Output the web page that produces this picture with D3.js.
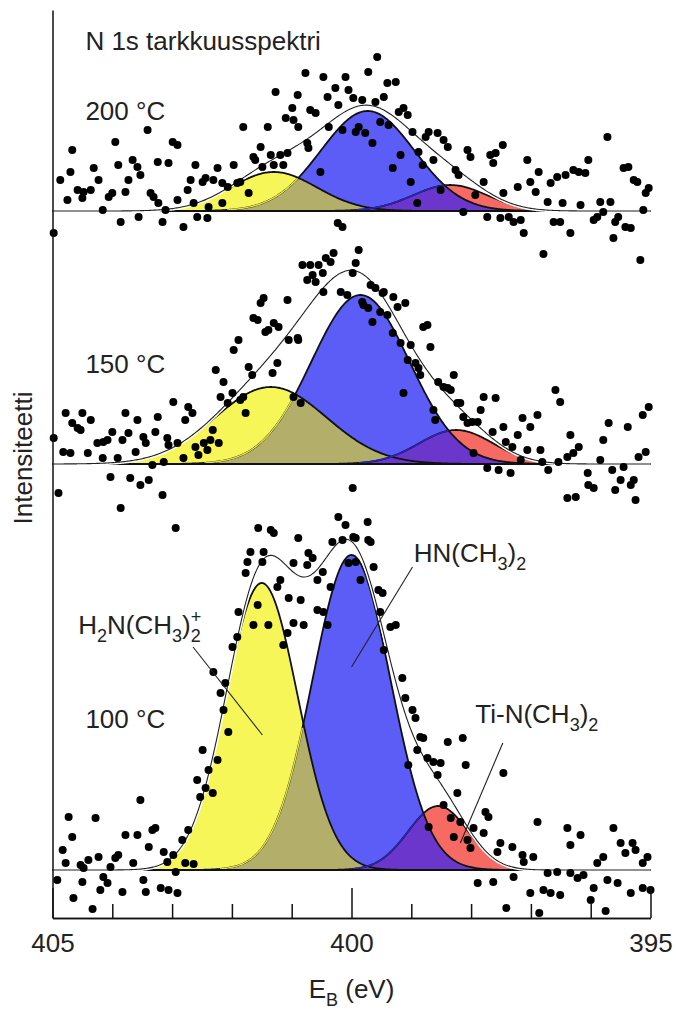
<!DOCTYPE html>
<html>
<head>
<meta charset="utf-8">
<script src="https://cdn.jsdelivr.net/npm/d3@7"></script>
<style>
  body { margin: 0; background: #fff; }
  text { font-family: "Liberation Sans", Arial, sans-serif; fill: #222; }
</style>
</head>
<body>
<script>
// ---------------- DATA ----------------
const xTicksMajor = [405, 400, 395];
const xTicksMinor = [404, 403, 402, 401, 399, 398, 397, 396];
const tempLabels = ["100 °C", "150 °C", "200 °C"];
const stackOffsets = [0, 4.06, 6.59];           // vertical offset of each spectrum (intensity units)
const componentNames = ["H2N(CH3)2+", "HN(CH3)2", "Ti-N(CH3)2"];

// Gaussian components: [yellow, blue, red]
const centers100 = [401.5, 400.0, 398.55];
const amps100    = [2.87, 3.15, 0.64];
const sigmas100  = [0.60, 0.65, 0.50];

const centers150 = [401.35, 399.85, 398.25];
const amps150    = [0.77, 1.69, 0.34];
const sigmas150  = [0.93, 0.82, 0.62];

const centers200 = [401.3, 399.73, 398.35];
const amps200    = [0.39, 1.00, 0.26];
const sigmas200  = [0.72, 0.78, 0.62];

// measured points [binding energy (eV), intensity above baseline]
const pts100 = [[403.53,0.70],[403.28,0.42],[403.33,0.40],[402.73,0.40],[403.78,0.35],[403.58,0.35],[404.73,0.53],[404.28,0.52],[404.67,0.33],[402.83,0.30],[403.39,0.23],[404.83,0.20],[403.14,0.18],[402.98,0.15],[404.23,0.13],[403.90,0.15],[403.95,0.12],[404.40,0.10],[404.78,0.07],[404.53,0.05],[404.03,0.03],[403.65,0.07],[403.08,0.08],[402.78,0.07],[402.64,0.06],[404.48,0.02],[402.94,-0.02],[404.92,-0.10],[404.50,-0.12],[404.15,-0.07],[404.08,-0.13],[403.48,-0.10],[404.20,-0.20],[403.83,-0.22],[403.44,-0.22],[403.19,-0.18],[403.06,-0.20],[402.91,-0.23],[404.65,-0.28],[404.33,-0.39],
[401.56,3.42],[401.35,3.40],[401.30,3.37],[401.69,3.18],[401.47,3.18],[401.74,3.08],[401.49,3.08],[401.77,2.97],[401.19,2.90],[401.24,2.83],[401.05,2.72],[400.89,3.32],[400.97,3.07],[400.85,2.70],[400.72,3.17],[400.65,3.12],[400.74,3.05],[400.57,2.90],[400.48,2.98],[400.32,3.28],[400.15,3.30],[400.22,3.53],[400.10,3.45],[399.97,3.33],[399.73,3.48],[399.72,3.30],[400.57,2.60],[400.47,2.58],[400.35,2.83],[400.40,2.45],[400.97,2.47],[400.80,2.45],[401.57,2.65],[401.64,2.45],[401.39,2.45],[401.89,2.58],[401.07,2.37],[401.14,2.25],[401.99,2.23],[401.91,2.33],[402.31,1.98],[402.11,1.87],[402.19,1.77],[400.05,3.07],[399.93,3.08],[399.85,2.90],[399.63,3.03],[399.93,3.32],[399.68,3.28],[399.55,2.80],[399.48,2.77],[399.52,2.58],[399.35,2.43],[399.26,2.45],[399.46,2.20],[399.15,1.92],[399.10,1.72],
[402.14,1.60],[402.06,1.38],[402.49,1.20],[402.24,1.10],[402.39,1.00],[402.58,0.90],[402.44,0.82],[402.32,0.77],[402.53,0.73],
[398.98,1.60],[398.93,1.52],[398.85,1.33],[398.80,1.32],[398.39,1.28],[398.14,1.32],[398.90,1.20],[398.73,1.12],[398.63,1.08],[398.51,1.07],[398.09,1.05],[399.05,1.05],[398.56,0.95],[397.46,0.97],[398.23,0.77],[398.46,0.65],[397.76,0.58],[397.71,0.53],[398.34,0.52],[398.18,0.48],[396.89,0.48],[396.39,0.42],[395.62,0.42],[398.71,0.43],[397.96,0.42],[398.29,0.33],[396.17,0.35],[397.79,0.37],[398.06,0.30],[398.01,0.22],[396.34,0.25],[397.51,0.27],[397.31,0.23],[397.56,0.18],[395.50,0.27],[395.30,0.27],[395.25,0.20],[395.42,0.17],[397.14,0.15],[396.96,0.13],[395.05,0.13],[395.79,0.13],[397.12,0.08],[395.89,0.07],[395.13,0.07],[396.72,-0.03],[396.56,-0.02],[396.34,-0.03],[396.12,-0.05],[396.22,-0.08],[397.29,-0.07],[397.89,-0.13],[397.63,-0.12],[395.72,-0.10],[395.55,-0.13],[395.95,-0.18],[397.01,-0.23],[396.79,-0.20],[396.67,-0.23],[396.51,-0.25],[395.13,-0.18],[395.00,-0.20],[395.33,-0.23],[397.41,-0.38],[396.86,-0.43],[396.00,-0.30],[395.75,-0.41]];

const pts150 = [[404.98,0.26],[404.90,-0.29],[404.78,0.51],[404.82,0.12],[404.70,0.11],[404.67,0.41],[404.58,0.36],[404.50,0.51],[404.53,0.34],[404.41,0.11],[404.36,0.44],[404.25,0.21],[404.16,0.06],[404.15,0.22],[404.08,0.24],[404.03,-0.13],[404.00,0.32],[403.91,0.06],[403.83,0.24],[403.78,0.51],[403.73,0.31],[403.70,-0.14],[403.61,0.12],[403.58,0.44],[403.53,-0.21],[403.48,0.27],[403.44,0.21],[403.39,-0.16],[403.33,-0.01],[403.28,0.32],[403.24,0.47],[403.16,-0.31],[403.14,0.02],[403.08,0.26],[403.06,0.19],[402.98,0.62],[402.91,0.21],[402.81,0.06],[402.78,0.44],[402.73,0.57],[402.66,0.51],[402.61,0.17],[402.56,0.09],[402.47,0.21],[402.41,0.14],[402.36,0.24],[402.32,0.34],[402.27,0.94],[402.22,0.21],[402.14,0.82],[402.19,0.67],[402.07,0.61],[401.99,0.71],[401.97,1.14],[401.89,1.24],[401.86,0.64],[401.81,0.67],[401.77,0.51],[401.72,0.97],[401.66,0.89],[401.64,1.46],[401.57,1.44],[401.52,1.61],[401.47,1.66],[401.44,1.32],[401.39,1.34],[401.32,0.91],[401.30,1.41],[401.24,1.01],[401.22,1.37],[401.07,1.64],[401.05,1.24],[400.97,0.67],[400.90,1.26],[400.89,1.24],[400.85,0.61],[400.82,1.99],[400.74,1.84],[400.65,1.89],[400.69,1.99],[400.60,1.82],[400.55,1.99],[400.48,1.91],[400.47,1.72],[400.43,2.06],[400.35,2.02],[400.30,2.11],[400.18,1.72],[400.07,1.69],[399.98,1.91],[399.93,2.01],[399.88,2.14],[399.98,-0.24],[399.82,1.62],[399.80,1.59],[399.72,1.56],[399.65,1.42],[399.68,1.79],[399.60,1.76],[399.48,1.71],[399.46,1.72],[399.30,1.67],[399.23,1.57],[399.10,1.61],[399.52,1.52],[399.40,1.49],[399.31,1.31],[399.18,1.21],[399.13,0.71],[399.01,1.19],[399.06,1.04],[398.80,1.37],[398.73,1.39],[398.68,1.17],[398.93,1.01],[398.88,0.96],[398.85,0.89],[398.63,0.54],[398.60,0.44],[398.55,0.82],[398.46,0.77],[398.39,0.76],[398.34,0.74],[398.29,0.89],[398.23,0.61],[398.18,0.61],[398.13,0.47],[398.06,0.41],[397.98,0.42],[397.89,0.42],[397.84,0.54],[397.79,0.67],[397.59,0.66],[397.64,0.32],[397.96,0.11],[397.73,-0.04],[397.54,-0.06],[397.46,0.37],[397.42,0.22],[397.34,-0.09],[397.31,0.17],[397.22,0.29],[397.17,0.04],[397.14,0.46],[397.06,0.14],[397.01,0.37],[396.89,0.49],[396.84,0.14],[396.81,0.02],[396.79,2.10],[396.71,-0.06],[396.59,0.74],[396.51,0.62],[396.54,0.02],[396.39,0.07],[396.34,0.29],[396.29,0.11],[396.20,0.17],[396.05,-0.09],[396.04,-0.21],[395.95,-0.24],[395.84,0.04],[395.79,0.24],[395.70,0.41],[395.64,-0.06],[395.59,-0.26],[395.50,-0.16],[395.45,-0.03],[395.38,0.37],[395.33,-0.21],[395.28,-0.16],[395.20,0.07],[395.17,2.04],[395.13,0.49],[395.08,0.12],[395.03,0.57],[396.39,-0.34],[396.25,-0.33],[395.25,-0.36],[403.86,-0.44],[402.94,-0.64]];

const pts200 = [[404.98,-0.22],[404.87,0.31],[404.67,0.61],[404.70,0.39],[404.75,0.11],[404.58,0.21],[404.48,0.19],[404.36,0.21],[404.50,0.13],[404.31,0.43],[404.23,0.31],[404.16,0.01],[404.00,0.18],[404.06,0.14],[403.95,0.69],[403.90,0.46],[403.86,-0.11],[403.78,0.19],[403.73,0.31],[403.66,0.51],[403.58,0.44],[403.53,0.36],[403.56,-0.06],[403.41,0.81],[403.36,0.18],[403.31,0.14],[403.24,0.49],[403.23,0.08],[403.16,-0.11],[403.11,0.01],[403.06,0.48],[402.99,0.69],[402.91,0.66],[402.91,0.11],[402.81,-0.16],[402.74,0.21],[402.69,0.31],[402.64,0.08],[402.61,0.46],[402.58,-0.06],[402.49,0.29],[402.44,0.33],[402.41,-0.07],[402.39,0.04],[402.31,0.31],[402.24,0.43],[402.16,0.08],[402.16,0.28],[402.07,0.24],[401.97,0.46],[401.91,0.28],[401.86,0.29],[401.81,0.84],[401.72,0.18],[401.64,0.54],[401.61,0.51],[401.52,0.64],[401.49,0.44],[401.40,0.84],[401.35,0.56],[401.30,0.46],[401.27,1.19],[401.19,0.56],[401.14,0.46],[401.07,0.58],[401.10,0.93],[400.99,1.03],[400.97,0.91],[400.90,1.16],[400.89,0.84],[400.74,0.68],[400.72,0.63],[400.77,1.38],[400.69,1.01],[400.60,0.98],[400.52,0.39],[400.47,1.34],[400.40,1.14],[400.38,0.84],[400.27,1.23],[400.22,1.06],[400.23,-0.12],[400.15,-0.16],[400.15,0.81],[400.10,1.34],[400.05,1.21],[399.97,1.13],[399.93,0.79],[399.88,0.84],[399.82,1.11],[399.77,0.78],[399.72,1.39],[399.65,0.68],[399.57,1.54],[399.60,1.09],[399.46,1.14],[399.40,1.28],[399.26,1.29],[399.52,0.89],[399.38,0.86],[399.21,0.99],[399.13,1.03],[399.06,0.96],[399.18,0.56],[399.31,0.43],[398.98,0.79],[399.01,0.29],[398.88,0.59],[398.81,0.46],[398.76,0.74],[398.71,0.79],[398.63,0.51],[398.56,0.78],[398.46,0.71],[398.39,0.64],[398.51,0.21],[398.90,0.08],[398.26,0.41],[398.21,0.36],[398.13,-0.01],[398.06,0.61],[398.01,0.54],[397.93,0.16],[397.79,0.29],[397.73,-0.06],[397.68,0.56],[397.63,0.48],[397.59,0.58],[397.47,0.66],[397.46,0.18],[397.51,-0.07],[397.37,-0.06],[397.29,-0.11],[397.17,-0.09],[397.12,-0.22],[397.22,0.24],[397.06,0.51],[397.01,0.29],[396.92,0.19],[396.87,0.39],[396.72,0.09],[396.67,0.28],[396.62,-0.11],[396.56,0.34],[396.51,-0.11],[396.47,0.08],[396.42,0.36],[396.34,-0.22],[396.29,0.41],[396.20,0.39],[396.17,0.06],[396.09,0.38],[396.04,0.51],[395.95,-0.09],[395.89,-0.06],[395.84,0.09],[395.79,-0.01],[395.72,0.74],[395.67,0.09],[395.59,-0.11],[395.54,-0.06],[395.62,-0.27],[395.45,0.43],[395.37,0.44],[395.42,-0.16],[395.33,-0.17],[395.28,0.31],[395.22,0.29],[395.12,0.01],[395.08,0.18],[395.03,0.23]];

// ---------------- CHART ----------------
const W = 676, H = 1011;
const FONT = 26, SUB = 18;
const svg = d3.select("body").append("svg").attr("width", W).attr("height", H);

const x = d3.scaleLinear().domain([405, 395]).range([52.5, 650.5]);
const y = d3.scaleLinear().domain([-0.48, 8.70]).range([918, 0]);

const colYellow = "#f6f658", colBlue = "#5c5cf6", colRed = "#f76a64",
      colOlive = "#b3ae6a", colPurple = "#6a36cc";

const grid = d3.range(395, 405.0001, 0.02);
const gauss = (e, c, a, s) => a * Math.exp(-0.5 * ((e - c) / s) ** 2);

const panels = [
  {c: centers100, a: amps100, s: sigmas100, pts: pts100, off: stackOffsets[0]},
  {c: centers150, a: amps150, s: sigmas150, pts: pts150, off: stackOffsets[1]},
  {c: centers200, a: amps200, s: sigmas200, pts: pts200, off: stackOffsets[2]}
];

panels.forEach((p, pi) => {
  const g = svg.append("g");
  const rows = grid.map(e => {
    const v = [0, 1, 2].map(k => gauss(e, p.c[k], p.a[k], p.s[k]));
    return {e, Y: v[0], B: v[1], R: v[2], S: v[0] + v[1] + v[2]};
  });
  const area = f => d3.area().x(d => x(d.e)).y0(y(p.off)).y1(d => y(p.off + f(d)))(rows);
  const line = (f, def) => d3.line().defined(def || (() => true))
      .x(d => x(d.e)).y(d => y(p.off + f(d)))(rows);

  g.append("path").attr("d", area(d => d.Y)).attr("fill", colYellow);
  g.append("path").attr("d", area(d => d.B)).attr("fill", colBlue);
  g.append("path").attr("d", area(d => d.R)).attr("fill", colRed);
  g.append("path").attr("d", area(d => Math.min(d.Y, d.B))).attr("fill", colOlive);
  g.append("path").attr("d", area(d => Math.min(d.B, d.R))).attr("fill", colPurple);

  // component outlines
  g.append("path").attr("d", line(d => d.Y)).attr("fill", "none").attr("stroke", "#111").attr("stroke-width", 1.8);
  g.append("path").attr("d", line(d => d.B)).attr("fill", "none").attr("stroke", "#111").attr("stroke-width", 1.8);
  g.append("path").attr("d", line(d => d.R)).attr("fill", "none").attr("stroke", "#111").attr("stroke-width", 1.8);
  g.append("path").attr("d", line(d => d.B, d => d.Y > d.B + 0.005 && d.B > 0.01))
      .attr("fill", "none").attr("stroke", "#e4e24a").attr("stroke-width", 1.4);
  g.append("path").attr("d", line(d => d.R, d => d.R < d.B - 0.005 && d.R > 0.01))
      .attr("fill", "none").attr("stroke", "#2626b0").attr("stroke-width", 1.6);

  // baseline
  g.append("line").attr("x1", x(405)).attr("x2", x(395))
    .attr("y1", y(p.off)).attr("y2", y(p.off))
    .attr("stroke", "#111").attr("stroke-width", 2.2);

  // total fit (thin line with white halo)
  g.append("path").attr("d", line(d => d.S)).attr("fill", "none").attr("stroke", "#fff").attr("stroke-width", 4);
  g.append("path").attr("d", line(d => d.S)).attr("fill", "none").attr("stroke", "#222").attr("stroke-width", 1.1);

  // measured points
  g.selectAll("circle").data(p.pts).join("circle")
    .attr("cx", d => x(d[0])).attr("cy", d => y(p.off + d[1]))
    .attr("r", 4).attr("fill", "#000");

  // temperature label
  svg.append("text").attr("x", x(404.45)).attr("y", y(p.off + [1.42, 0.91, 0.91][pi]))
    .attr("font-size", FONT).text(tempLabels[pi]);
});

// ---------------- AXES ----------------
const axisG = svg.append("g").attr("transform", `translate(0,${y(-0.48)})`);
axisG.call(d3.axisTop(x).tickValues(xTicksMinor).tickSize(14).tickSizeOuter(0).tickFormat(""));
axisG.append("g").call(d3.axisTop(x).tickValues(xTicksMajor).tickSize(30).tickSizeOuter(0).tickFormat(""));
axisG.selectAll("path,line").attr("stroke", "#111").attr("stroke-width", 1.5);
const lab = svg.append("g").attr("transform", `translate(0,${y(-0.48)})`)
  .call(d3.axisBottom(x).tickValues(xTicksMajor).tickSize(0).tickPadding(16).tickFormat(d3.format("d")));
lab.select(".domain").remove();
lab.selectAll("text").attr("font-size", FONT).attr("font-family", '"Liberation Sans", Arial, sans-serif').attr("fill", "#222");

const yAxisScale = d3.scaleLinear().domain([-0.48, 8.6]).range([y(-0.48), y(8.6)]);
const yAx = svg.append("g").attr("transform", `translate(${x(405)},0)`)
  .call(d3.axisLeft(yAxisScale).tickValues([]).tickSizeOuter(0));
yAx.select(".domain").attr("stroke", "#111").attr("stroke-width", 1.5);

// axis titles
const xt = svg.append("text").attr("x", x(400)).attr("y", 998).attr("text-anchor", "middle").attr("font-size", FONT);
xt.append("tspan").text("E");
xt.append("tspan").attr("dy", 8).attr("font-size", SUB).text("B");
xt.append("tspan").attr("dy", -8).text(" (eV)");

svg.append("text").attr("transform", `translate(32,${458}) rotate(-90)`)
  .attr("text-anchor", "middle").attr("font-size", FONT).text("Intensiteetti");

svg.append("text").attr("x", x(404.45)).attr("y", y(stackOffsets[2] + 1.61))
  .attr("font-size", FONT).text("N 1s tarkkuusspektri");

// ---------------- ANNOTATIONS ----------------
function chem(xe, yv, parts) {
  const t = svg.append("text").attr("x", x(xe)).attr("y", y(yv)).attr("font-size", FONT);
  parts.forEach(([s, kind]) => {
    const ts = t.append("tspan").text(s);
    if (kind === "sub") ts.attr("dy", 8).attr("font-size", SUB);
    if (kind === "back") ts.attr("dy", -8);
    if (kind === "sup") ts.attr("dx", -10).attr("dy", -19).attr("font-size", SUB);
  });
  return t;
}
chem(404.57, 2.36, [["H"], ["2", "sub"], ["N(CH", "back"], ["3", "sub"], [")", "back"], ["2", "sub"], ["+", "sup"]]);
chem(398.96, 3.08, [["HN(CH"], ["3", "sub"], [")", "back"], ["2", "sub"]]);
chem(397.93, 1.47, [["Ti-N(CH"], ["3", "sub"], [")", "back"], ["2", "sub"]]);

const leaders = [[[402.65, 2.23], [401.49, 1.35]], [[398.98, 3.03], [400.0, 2.03]], [[397.47, 1.27], [398.18, 0.27]]];
leaders.forEach(([a, b]) => {
  svg.append("line").attr("x1", x(a[0])).attr("y1", y(a[1])).attr("x2", x(b[0])).attr("y2", y(b[1]))
    .attr("stroke", "#222").attr("stroke-width", 1.1);
});
</script>
</body>
</html>
